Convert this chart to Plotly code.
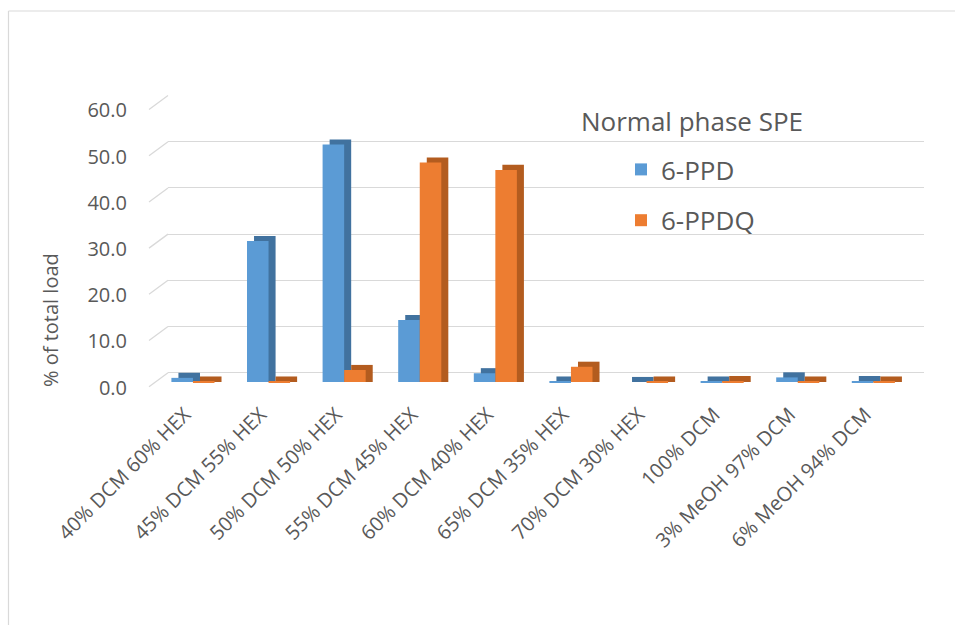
import plotly.graph_objects as go

categories = ["40% DCM 60% HEX", "45% DCM 55% HEX", "50% DCM 50% HEX", "55% DCM 45% HEX",
              "60% DCM 40% HEX", "65% DCM 35% HEX", "70% DCM 30% HEX", "100% DCM",
              "3% MeOH 97% DCM", "6% MeOH 94% DCM"]
ppd = [0.9, 30.5, 51.4, 13.4, 1.9, 0.1, 0.0, 0.1, 1.0, 0.2]
ppdq = [0.1, 0.1, 2.6, 47.5, 45.9, 3.3, 0.1, 0.2, 0.1, 0.1]
ytick_values = [0, 10, 20, 30, 40, 50, 60]
ytick_labels = ["0.0", "10.0", "20.0", "30.0", "40.0", "50.0", "60.0"]

BLUE, BLUE_D = "#5B9BD5", "#41729F"
ORANGE, ORANGE_D = "#ED7D31", "#B35C1F"
TXT = "#595959"
GRID = "#D9D9D9"
FONT = "Open Sans"

# geometry (style); body margin is removed by post_script
OFF = 0
W, H = 955, 625
L, R, T, B = 168, 31, 95, 233
PW, PH = W - L - R, H - T - B
YR = [-2.16, 62.12]
BAR_W = 0.285
DX = 0.093        # depth offset (category units)
DY = 1.1          # depth offset (data units)
GRID_SHIFT = 2.01 # back-wall offset (data units)
LABEL_SHIFT = 1.2

def px_x(sx):
    return (sx - OFF - L) / PW

def px_y(sy):
    return (H - B - (sy - OFF)) / PH

def val_to_sy(v):
    return OFF + H - B - (v - YR[0]) / (YR[1] - YR[0]) * PH

fig = go.Figure()
for vals, front, dark, name, off in [(ppd, BLUE, BLUE_D, "6-PPD", -BAR_W),
                                     (ppdq, ORANGE, ORANGE_D, "6-PPDQ", 0.0)]:
    fig.add_trace(go.Bar(x=categories, y=[v + DY for v in vals], base=0,
                         width=BAR_W, offset=off + DX, marker=dict(color=dark, line=dict(width=0)),
                         showlegend=False, hoverinfo="skip"))
    fig.add_trace(go.Bar(x=categories, y=vals, width=BAR_W, offset=off, name=name,
                         legendgroup=name,
                         marker=dict(color=front, line=dict(width=0))))

shapes = [
    dict(type="line", xref="paper", yref="paper",
         x0=px_x(8.5), x1=px_x(8.5), y0=px_y(11), y1=px_y(H),
         line=dict(color=GRID, width=1.2), layer="below"),
    dict(type="line", xref="paper", yref="paper",
         x0=px_x(8.5), x1=px_x(W), y0=px_y(11), y1=px_y(11),
         line=dict(color=GRID, width=1.2), layer="below"),
]
for v in ytick_values:
    yb = val_to_sy(v + GRID_SHIFT)
    shapes.append(dict(type="line", xref="paper", yref="paper",
                       x0=px_x(149), y0=px_y(yb + 14), x1=px_x(168), y1=px_y(yb),
                       line=dict(color=GRID, width=1.3)))

fig.update_layout(
    width=W, height=H,
    margin=dict(l=L, r=R, t=T, b=B),
    paper_bgcolor="white", plot_bgcolor="white",
    barmode="overlay",
    font=dict(family=FONT, color=TXT, size=20),
    xaxis=dict(range=[-0.33, 9.67], showgrid=False, zeroline=False, showline=False,
               tickangle=-45, tickfont=dict(size=20, color=TXT), ticks="",
               ticklabelstandoff=6, ticklabelshift=-8),
    yaxis=dict(range=YR, showgrid=False, zeroline=False, showline=False,
               tickmode="array", tickvals=[v - LABEL_SHIFT for v in ytick_values],
               ticktext=ytick_labels, tickfont=dict(size=20, color=TXT), ticks="",
               ticklabelstandoff=40,
               minor=dict(tick0=GRID_SHIFT, dtick=10, showgrid=True,
                          gridcolor=GRID, gridwidth=1.3, ticks="")),
    legend=dict(x=px_x(621), y=px_y(146), xanchor="left", yanchor="top",
                font=dict(size=26, color=TXT), traceorder="grouped",
                tracegroupgap=14, bgcolor="rgba(0,0,0,0)", itemwidth=30),
    shapes=shapes,
    annotations=[
        dict(text="Normal phase SPE", xref="paper", yref="paper",
             x=px_x(692), y=px_y(121), xanchor="center", yanchor="middle",
             showarrow=False, font=dict(size=26, color=TXT)),
        dict(text="% of total load", xref="paper", yref="paper",
             x=px_x(50), y=px_y(320), xanchor="center", yanchor="middle",
             textangle=-90, showarrow=False, font=dict(size=20, color=TXT)),
    ],
)

fig.write_html("out.html",
               config={"displayModeBar": False},
               post_script="document.body.style.margin='0';"
                           "document.body.style.overflow='hidden';"
                           "document.documentElement.style.overflow='hidden';")
